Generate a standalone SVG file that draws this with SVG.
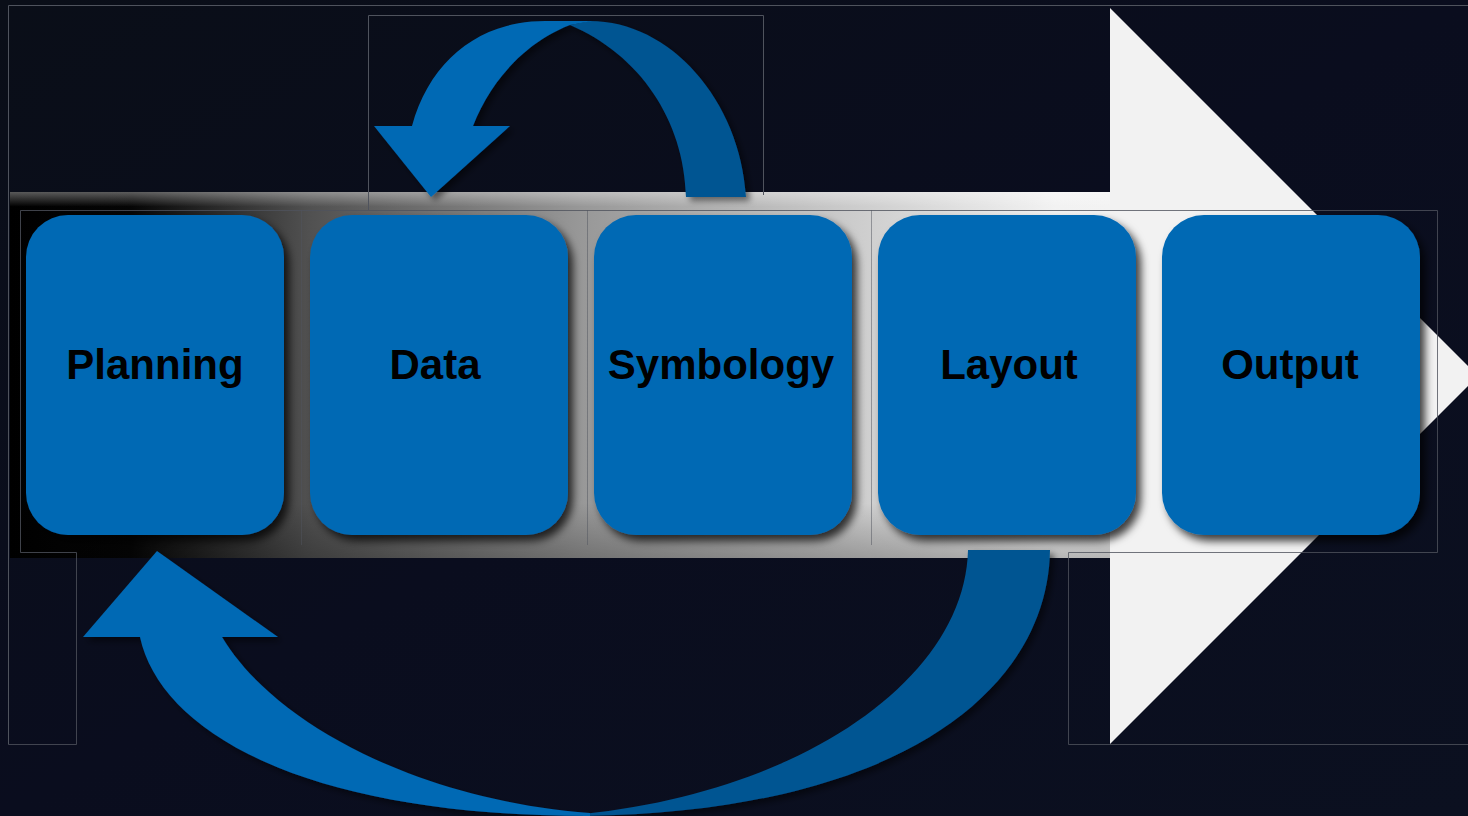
<svg xmlns="http://www.w3.org/2000/svg" width="1468" height="816" viewBox="0 0 1468 816">
  <defs>
    <linearGradient id="bg" x1="0" y1="0" x2="1" y2="1">
      <stop offset="0" stop-color="#0a0e18"/>
      <stop offset="0.5" stop-color="#0a0d1e"/>
      <stop offset="1" stop-color="#0b1020"/>
    </linearGradient>
    <linearGradient id="shaft" gradientUnits="userSpaceOnUse" x1="10" y1="0" x2="1110" y2="0">
      <stop offset="0" stop-color="#000000"/>
      <stop offset="0.11" stop-color="#050505"/>
      <stop offset="0.27" stop-color="#505050"/>
      <stop offset="0.52" stop-color="#989898"/>
      <stop offset="0.78" stop-color="#cfcfcf"/>
      <stop offset="0.95" stop-color="#f2f2f2"/>
      <stop offset="1" stop-color="#f3f3f3"/>
    </linearGradient>
    <linearGradient id="shaftShade" x1="0" y1="0" x2="0" y2="1">
      <stop offset="0" stop-color="#ffffff" stop-opacity="0.35"/>
      <stop offset="0.04" stop-color="#ffffff" stop-opacity="0"/>
      <stop offset="0.85" stop-color="#000000" stop-opacity="0"/>
      <stop offset="1" stop-color="#000000" stop-opacity="0.25"/>
    </linearGradient>
    <filter id="boxShadow" x="-10%" y="-10%" width="130%" height="130%">
      <feDropShadow dx="5" dy="6" stdDeviation="4" flood-color="#000000" flood-opacity="0.75"/>
    </filter>
    <filter id="arrowShadow" x="-10%" y="-10%" width="130%" height="130%">
      <feDropShadow dx="4" dy="4" stdDeviation="3" flood-color="#000000" flood-opacity="0.5"/>
    </filter>
  </defs>
  <style>
    .frame { fill: none; stroke: #4f535d; stroke-width: 1; }
    .box { fill: #0169b4; }
    .label { font-family: "Liberation Sans", Arial, sans-serif; font-weight: bold; font-size: 42px; fill: #000000; text-anchor: middle; }
    .blue { fill: #0169b4; }
    .dark { fill: #005592; }
  </style>

  <rect x="0" y="0" width="1468" height="816" fill="url(#bg)"/>

  <!-- big process arrow -->
  <g id="process-arrow">
    <rect x="10" y="192" width="1102" height="366" fill="url(#shaft)"/>
    <rect x="10" y="192" width="1102" height="366" fill="url(#shaftShade)"/>
    <polygon points="1110,8 1478,376 1110,744" fill="#f2f2f2"/>
  </g>

  <!-- faint slide frame lines -->
  <g id="frames">
    <path class="frame" d="M8.5,744.5 V5.5 H1468"/>
    <path class="frame" d="M8.5,744.5 H76.5 V552.5 H20.5 V210.5 H1437.5 V552.5 H1068.5 V744.5 H1468" stroke-opacity="0.8"/>
    <path class="frame" d="M368.5,210 V15.5 H763.5 V195"/>
    <path class="frame" d="M301.5,210 V545 M587.5,210 V545 M871.5,210 V545" stroke="#9a9a9a" stroke-opacity="0.5"/>
  </g>

  <!-- connectors -->
  <g id="connectors" filter="url(#arrowShadow)">
    <!-- Symbology -> Data (top loop) -->
    <path class="dark" d="M686,197 C684,120 640,55 570,25 L590,21 C670,21 740,100 746,197 Z"/>
    <path class="blue" d="M412,126 C430,60 480,21 545,21 L592,21 L570,25 C525,42 490,82 473,126 Z"/>
    <polygon class="blue" points="374,126 510,126 431,197"/>
    <!-- Layout -> Planning (bottom loop) -->
    <path class="dark" d="M968,550 L1050,550 C1048,690 900,812 583,816 L583,814 C800,792 965,680 968,550 Z"/>
    <path class="blue" d="M140,637 C160,730 300,816 590,816 L590,813 C420,800 275,725 222,637 Z"/>
    <polygon class="blue" points="83,637 278,637 157,551"/>
  </g>

  <g id="node-planning">
    <rect class="box" x="26" y="215" width="258" height="320" rx="42" filter="url(#boxShadow)"/>
    <text class="label" x="155" y="379">Planning</text>
  </g>
  <g id="node-data">
    <rect class="box" x="310" y="215" width="258" height="320" rx="42" filter="url(#boxShadow)"/>
    <text class="label" x="435" y="379">Data</text>
  </g>
  <g id="node-symbology">
    <rect class="box" x="594" y="215" width="258" height="320" rx="42" filter="url(#boxShadow)"/>
    <text class="label" x="721" y="379">Symbology</text>
  </g>
  <g id="node-layout">
    <rect class="box" x="878" y="215" width="258" height="320" rx="42" filter="url(#boxShadow)"/>
    <text class="label" x="1009" y="379">Layout</text>
  </g>
  <g id="node-output">
    <rect class="box" x="1162" y="215" width="258" height="320" rx="42" filter="url(#boxShadow)"/>
    <text class="label" x="1290" y="379">Output</text>
  </g>
</svg>
